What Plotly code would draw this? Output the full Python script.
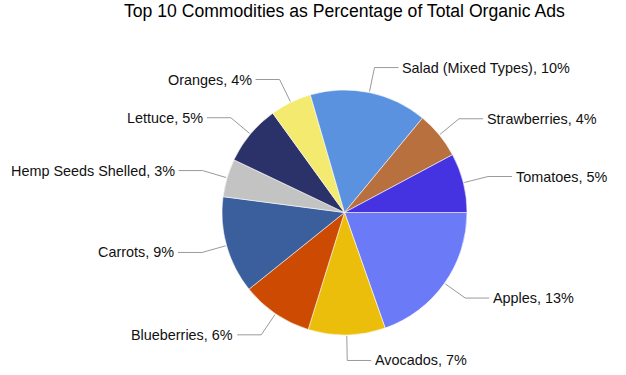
import math
import plotly.graph_objects as go

# ---- data ----
commodities = ["Apples", "Avocados", "Blueberries", "Carrots", "Hemp Seeds Shelled",
               "Lettuce", "Oranges", "Salad (Mixed Types)", "Strawberries", "Tomatoes"]
percent_of_ads = [13.3, 6.9, 6.4, 8.7, 3.4, 5.4, 3.7, 10.5, 4.2, 5.3]
slice_colors = ["#6B7BF7", "#EBBE0B", "#CC4A02", "#3A5F9C", "#C3C3C3",
                "#2B3169", "#F4EA6F", "#5A92E0", "#B8703F", "#4532E0"]
title_text = "Top 10 Commodities as Percentage of Total Organic Ads"

# ---- layout geometry (pixels) ----
W, H = 626, 375
CX, CY, R = 344.5, 212.5, 122.5
R_START, R_ELBOW, HSEG, GAP = 123.5, 148.0, 24.0, 2.0
FONT = "Liberation Sans, Arial, sans-serif"

fig = go.Figure()

fig.add_trace(go.Pie(
    labels=commodities,
    values=percent_of_ads,
    sort=False,
    direction="clockwise",
    rotation=90,
    marker=dict(colors=slice_colors, line=dict(color="rgba(255,255,255,0.7)", width=0.8)),
    textinfo="none",
    hoverinfo="label+value",
    showlegend=False,
    domain=dict(x=[(CX - R) / W, (CX + R) / W], y=[1 - (CY + R) / H, 1 - (CY - R) / H]),
))

total = sum(percent_of_ads)
cum = 0.0
annotations = []
for name, val in zip(commodities, percent_of_ads):
    mid = (cum + val / 2) / total * 2 * math.pi
    cum += val
    c, s = math.cos(mid), math.sin(mid)
    side = 1 if c >= 0 else -1
    x0, y0 = CX + R_START * c, CY + R_START * s
    x1, y1 = CX + R_ELBOW * c, CY + R_ELBOW * s
    x2 = x1 + side * HSEG
    fig.add_trace(go.Scatter(
        x=[x0, x1, x2], y=[y0, y1, y1], mode="lines",
        line=dict(color="#9A9A9A", width=1), hoverinfo="skip", showlegend=False,
        xaxis="x", yaxis="y",
    ))
    annotations.append(dict(
        x=x2 + side * GAP, y=y1, xref="x", yref="y",
        text=f"{name}, {val:.0f}%", showarrow=False,
        xanchor="left" if side > 0 else "right", yanchor="middle",
        font=dict(family=FONT, size=14.4, color="#111111"),
    ))

annotations.append(dict(
    x=CX, y=11, xref="x", yref="y", text=title_text, showarrow=False,
    xanchor="center", yanchor="middle",
    font=dict(family=FONT, size=17.6, color="#000000"),
))

fig.update_layout(
    width=W, height=H,
    margin=dict(l=0, r=0, t=0, b=0),
    paper_bgcolor="white", plot_bgcolor="white",
    xaxis=dict(range=[0, W], visible=False, fixedrange=True),
    yaxis=dict(range=[H, 0], visible=False, fixedrange=True),
    annotations=annotations,
)

fig.write_html("out.html", config={"displayModeBar": False},
               post_script="document.body.style.margin='0';document.body.style.overflow='hidden';")
